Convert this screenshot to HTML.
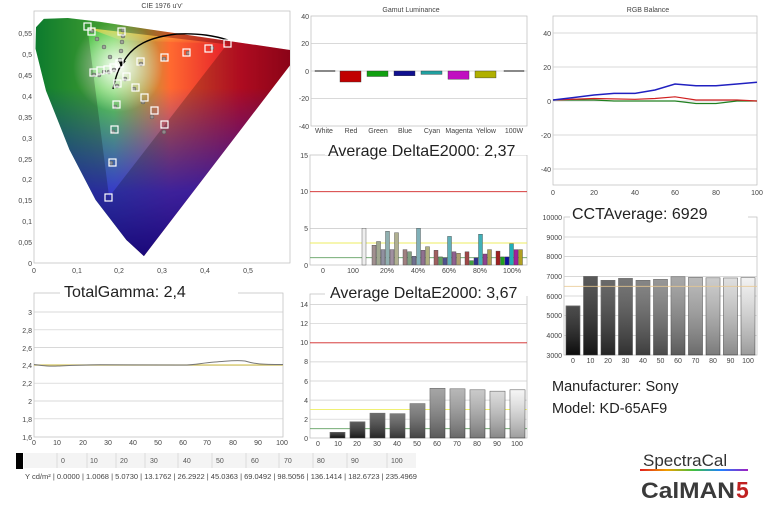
<!DOCTYPE html>
<html><head><meta charset="utf-8"><style>
html,body{margin:0;padding:0;background:#fff}
svg{display:block;font-family:"Liberation Sans",sans-serif}
</style></head><body>
<svg width="770" height="512" viewBox="0 0 770 512" xmlns="http://www.w3.org/2000/svg">
<defs>
<clipPath id="loc"><path d="M143.9,256.1 L126.4,240 L95.6,199.9 L69.5,149.7 L46,90.8 L35.5,48.6 L36,27.2 L43.8,18.9 L67.8,18 L99.5,21.8 L146.1,28.9 L206.5,37.7 L300.6,51.5 Z"/></clipPath>
<clipPath id="plot"><rect x="34" y="11" width="256" height="252"/></clipPath>
<linearGradient id="gh" x1="0" y1="0" x2="1" y2="0"><stop offset="0" stop-color="#0a9a3a"/><stop offset="0.3" stop-color="#5fd040"/><stop offset="0.5" stop-color="#ff6a30"/><stop offset="0.75" stop-color="#e0102a"/><stop offset="1" stop-color="#a0001a"/></linearGradient>
<linearGradient id="gv" x1="0" y1="0" x2="0" y2="1"><stop offset="0.3" stop-color="#2020ff" stop-opacity="0"/><stop offset="0.7" stop-color="#3020e0" stop-opacity="0.85"/><stop offset="1" stop-color="#1a0090" stop-opacity="1"/></linearGradient>
<radialGradient id="gw" cx="118" cy="67" r="45" gradientUnits="userSpaceOnUse"><stop offset="0" stop-color="#fff" stop-opacity="1"/><stop offset="1" stop-color="#fff" stop-opacity="0"/></radialGradient>
<linearGradient id="gy" x1="0" y1="0" x2="0" y2="1"><stop offset="0" stop-color="#ffd040" stop-opacity="0.8"/><stop offset="1" stop-color="#ffd040" stop-opacity="0"/></linearGradient>
<linearGradient id="bar" x1="0" y1="0" x2="0" y2="1"><stop offset="0" stop-color="#fff" stop-opacity="0.25"/><stop offset="1" stop-color="#000" stop-opacity="0.35"/></linearGradient>
<linearGradient id="rb" x1="0" y1="0" x2="1" y2="0"><stop offset="0" stop-color="#e02020"/><stop offset="0.25" stop-color="#f0a000"/><stop offset="0.5" stop-color="#40c040"/><stop offset="0.75" stop-color="#2080ff"/><stop offset="1" stop-color="#a020c0"/></linearGradient>
</defs>

<!-- CIE -->
<text x="162" y="8" font-size="7" fill="#444" text-anchor="middle">CIE 1976 u'v'</text>
<rect x="34" y="11" width="256" height="252" fill="#fff" stroke="#bbb" stroke-width="0.7"/>
<g clip-path="url(#plot)"><g clip-path="url(#loc)">
<rect x="30" y="10" width="280" height="260" fill="url(#gh)"/>
<rect x="30" y="10" width="280" height="260" fill="url(#gv)"/>
<path d="M87.5,27.9 L227,44.4 L120,40 Z" fill="url(#gy)"/>
<rect x="30" y="10" width="280" height="260" fill="url(#gw)"/>
<path d="M30,10 H310 V270 H30 Z M87.5,27.9 L109.1,197 L227,44.4 Z" fill="#000" fill-opacity="0.22" fill-rule="evenodd"/>
</g>
<path d="M113,89 C116,75 119,67 123,63 C132,45 150,37 177,34 C200,33 215,36 228,40" fill="none" stroke="#000" stroke-width="1.4"/>
<path d="M119,62 L126,61 L121,67 Z" fill="#000"/>
<g fill="#999" fill-opacity="0.8" stroke="#555" stroke-width="0.5">
<circle cx="141" cy="64" r="2"/><circle cx="164" cy="59" r="2"/><circle cx="188" cy="53" r="2"/><circle cx="212" cy="48" r="2"/>
<circle cx="117" cy="86" r="2"/><circle cx="115" cy="107" r="2"/><circle cx="113" cy="132" r="2"/><circle cx="111" cy="163" r="2"/>
<circle cx="125" cy="79" r="2"/><circle cx="134" cy="89" r="2"/><circle cx="143" cy="102" r="2"/><circle cx="152" cy="117" r="2"/><circle cx="164" cy="132" r="2"/>
<circle cx="94" cy="75" r="2"/><circle cx="99" cy="75" r="2"/><circle cx="104" cy="72" r="2"/><circle cx="109" cy="72" r="2"/><circle cx="114" cy="70" r="2"/>
<circle cx="123" cy="30" r="2"/><circle cx="123" cy="36" r="2"/><circle cx="122" cy="42" r="2"/><circle cx="121" cy="51" r="2"/><circle cx="120" cy="60" r="2"/>
<circle cx="92" cy="31" r="2"/><circle cx="97" cy="39" r="2"/><circle cx="104" cy="47" r="2"/><circle cx="110" cy="57" r="2"/>
</g>
<g fill="none" stroke="#fff" stroke-width="1.2">
<rect x="84" y="23" width="7" height="7"/><rect x="88" y="28" width="7" height="7"/><rect x="137" y="58" width="7" height="7"/><rect x="161" y="54" width="7" height="7"/><rect x="183" y="49" width="7" height="7"/><rect x="205" y="45" width="7" height="7"/><rect x="224" y="40" width="7" height="7"/>
<rect x="114" y="80" width="7" height="7"/><rect x="113" y="101" width="7" height="7"/><rect x="111" y="126" width="7" height="7"/><rect x="109" y="159" width="7" height="7"/><rect x="105" y="194" width="7" height="7"/>
<rect x="123" y="73" width="7" height="7"/><rect x="132" y="84" width="7" height="7"/><rect x="141" y="94" width="7" height="7"/><rect x="151" y="107" width="7" height="7"/><rect x="161" y="121" width="7" height="7"/>
<rect x="90" y="69" width="7" height="7"/><rect x="97" y="67" width="7" height="7"/><rect x="104" y="66" width="7" height="7"/><rect x="110" y="64" width="7" height="7"/>
<rect x="118" y="28" width="7" height="7"/><rect x="116" y="60" width="7" height="7"/>
</g></g>
<g font-size="7" fill="#444" text-anchor="end">
<text x="32" y="36">0,55</text><text x="32" y="57">0,5</text><text x="32" y="78">0,45</text><text x="32" y="99">0,4</text><text x="32" y="120">0,35</text><text x="32" y="141">0,3</text><text x="32" y="162">0,25</text><text x="32" y="182">0,2</text><text x="32" y="203">0,15</text><text x="32" y="224">0,1</text><text x="32" y="245">0,05</text><text x="32" y="266">0</text>
</g>
<g font-size="7" fill="#444" text-anchor="middle">
<text x="34" y="273">0</text><text x="77" y="273">0,1</text><text x="119" y="273">0,2</text><text x="162" y="273">0,3</text><text x="205" y="273">0,4</text><text x="248" y="273">0,5</text>
</g>

<!-- Gamut Luminance -->
<text x="411" y="12" font-size="7" fill="#444" text-anchor="middle">Gamut Luminance</text>
<rect x="311" y="16" width="216" height="110" fill="#fff" stroke="#bbb" stroke-width="0.7"/>
<g stroke="#ccc" stroke-width="0.7"><line x1="311" y1="43.5" x2="527" y2="43.5"/><line x1="311" y1="71" x2="527" y2="71"/><line x1="311" y1="98.5" x2="527" y2="98.5"/></g>
<g stroke="#333" stroke-width="0.4">
<rect x="340" y="71" width="21" height="11" fill="#c00000"/><rect x="367" y="71" width="21" height="5.5" fill="#10a010"/><rect x="394" y="71" width="21" height="4.8" fill="#101090"/><rect x="421" y="71" width="21" height="3.4" fill="#20a0a0"/><rect x="448" y="71" width="21" height="8.2" fill="#c010c0"/><rect x="475" y="71" width="21" height="6.9" fill="#b0b000"/>
<rect x="315" y="70.5" width="20" height="1" fill="#888"/><rect x="504" y="70.5" width="20" height="1" fill="#888"/>
</g>
<g font-size="7" fill="#444" text-anchor="end"><text x="309" y="19">40</text><text x="309" y="46">20</text><text x="309" y="74">0</text><text x="309" y="101">-20</text><text x="309" y="129">-40</text></g>
<g font-size="7" fill="#444" text-anchor="middle"><text x="324" y="133">White</text><text x="351" y="133">Red</text><text x="378" y="133">Green</text><text x="405" y="133">Blue</text><text x="432" y="133">Cyan</text><text x="459" y="133">Magenta</text><text x="486" y="133">Yellow</text><text x="514" y="133">100W</text></g>

<!-- DeltaE 1 -->
<rect x="310" y="155" width="217" height="110" fill="#fff" stroke="#bbb" stroke-width="0.7"/>
<rect x="325" y="140" width="205" height="15" fill="#fff"/>
<text x="328" y="156" font-size="16" fill="#222">Average DeltaE2000: 2,37</text>
<line x1="310" y1="191.7" x2="527" y2="191.7" stroke="#d02020" stroke-width="0.9"/>
<line x1="310" y1="228.3" x2="527" y2="228.3" stroke="#bbb" stroke-width="0.7"/>
<line x1="310" y1="243" x2="527" y2="243" stroke="#eeee60" stroke-width="0.9"/>
<line x1="310" y1="257.7" x2="527" y2="257.7" stroke="#60a060" stroke-width="0.8"/>
<g stroke="#444" stroke-width="0.4">
<rect x="362" y="228.3" width="4" height="36.7" fill="#eee"/>
<rect x="372" y="245.2" width="4" height="19.8" fill="#a09090"/><rect x="376.5" y="241.5" width="4" height="23.5" fill="#a0a890"/><rect x="381" y="249.6" width="4" height="15.4" fill="#9090a0"/><rect x="385.5" y="231.3" width="4" height="33.7" fill="#90b0b0"/><rect x="390" y="249.6" width="4" height="15.4" fill="#a090a0"/><rect x="394.5" y="232.7" width="4" height="32.3" fill="#b0b090"/>
<rect x="403" y="249.6" width="4" height="15.4" fill="#a08080"/><rect x="407.5" y="251.8" width="4" height="13.2" fill="#80a080"/><rect x="412" y="256.2" width="4" height="8.8" fill="#707090"/><rect x="416.5" y="228.3" width="4" height="36.7" fill="#80b0b8"/><rect x="421" y="250.3" width="4" height="14.7" fill="#907090"/><rect x="425.5" y="246.7" width="4" height="18.3" fill="#b0b080"/>
<rect x="434" y="250.3" width="4" height="14.7" fill="#a06060"/><rect x="438.5" y="256.9" width="4" height="8.1" fill="#60a060"/><rect x="443" y="257.7" width="4" height="7.3" fill="#505090"/><rect x="447.5" y="236.4" width="4" height="28.6" fill="#60b0b8"/><rect x="452" y="251.8" width="4" height="13.2" fill="#906090"/><rect x="456.5" y="253.3" width="4" height="11.7" fill="#b0a070"/>
<rect x="465" y="251.8" width="4" height="13.2" fill="#a04848"/><rect x="469.5" y="260.6" width="4" height="4.4" fill="#40a040"/><rect x="474" y="257.7" width="4" height="7.3" fill="#303090"/><rect x="478.5" y="234.2" width="4" height="30.8" fill="#40b0b8"/><rect x="483" y="254" width="4" height="11" fill="#904090"/><rect x="487.5" y="249.6" width="4" height="15.4" fill="#b0a050"/>
<rect x="496" y="251.1" width="4" height="13.9" fill="#a02020"/><rect x="500.5" y="256.9" width="4" height="8.1" fill="#20a020"/><rect x="505" y="256.9" width="4" height="8.1" fill="#1010a0"/><rect x="509.5" y="243.7" width="4" height="21.3" fill="#20b0b8"/><rect x="514" y="249.6" width="4" height="15.4" fill="#a020a0"/><rect x="518.5" y="249.6" width="4" height="15.4" fill="#b0a020"/>
</g>
<g font-size="7" fill="#444" text-anchor="end"><text x="308" y="158">15</text><text x="308" y="194">10</text><text x="308" y="231">5</text><text x="308" y="268">0</text></g>
<g font-size="7" fill="#444" text-anchor="middle"><text x="323" y="273">0</text><text x="353" y="273">100</text><text x="387" y="273">20%</text><text x="418" y="273">40%</text><text x="449" y="273">60%</text><text x="480" y="273">80%</text><text x="512" y="273">100%</text></g>

<!-- RGB Balance -->
<text x="648" y="12" font-size="7" fill="#444" text-anchor="middle">RGB Balance</text>
<rect x="553" y="16" width="204" height="169" fill="#fff" stroke="#bbb" stroke-width="0.7"/>
<g stroke="#ccc" stroke-width="0.7"><line x1="553" y1="33" x2="757" y2="33"/><line x1="553" y1="67" x2="757" y2="67"/><line x1="553" y1="101" x2="757" y2="101"/><line x1="553" y1="135" x2="757" y2="135"/><line x1="553" y1="169" x2="757" y2="169"/></g>
<polyline fill="none" stroke="#208020" stroke-width="1.2" points="553,100 594,100 614,101 655,101 675,101 696,103.5 716,103.5 737,101 757,101"/>
<polyline fill="none" stroke="#d02020" stroke-width="1.2" points="553,100 594,98.5 635,99.3 655,98.5 675,96.8 696,100 716,100 737,100 757,101"/>
<polyline fill="none" stroke="#2020c0" stroke-width="1.5" points="553,100 573,97.6 594,95 614,93.4 635,93.4 655,90 675,84 696,85.7 716,85.7 737,84 757,82.3"/>
<g font-size="7" fill="#444" text-anchor="end"><text x="551" y="36">40</text><text x="551" y="70">20</text><text x="551" y="104">0</text><text x="551" y="138">-20</text><text x="551" y="172">-40</text></g>
<g font-size="7" fill="#444" text-anchor="middle"><text x="553" y="195">0</text><text x="594" y="195">20</text><text x="635" y="195">40</text><text x="675" y="195">60</text><text x="716" y="195">80</text><text x="757" y="195">100</text></g>

<!-- CCT -->
<rect x="564" y="217" width="193" height="138" fill="#fff" stroke="#bbb" stroke-width="0.7"/>
<rect x="570" y="205" width="178" height="14" fill="#fff"/>
<text x="572" y="219" font-size="16" fill="#222">CCTAverage: 6929</text>
<g stroke="#ccc" stroke-width="0.7"><line x1="564" y1="237" x2="757" y2="237"/><line x1="564" y1="256.6" x2="757" y2="256.6"/><line x1="564" y1="276.4" x2="757" y2="276.4"/><line x1="564" y1="296" x2="757" y2="296"/><line x1="564" y1="315.7" x2="757" y2="315.7"/><line x1="564" y1="335.4" x2="757" y2="335.4"/></g>
<g stroke="#555" stroke-width="0.6">
<rect x="566" y="305.9" width="14" height="49.1" fill="#111"/><rect x="583.5" y="276.4" width="14" height="78.6" fill="#222"/><rect x="601" y="280.3" width="14" height="74.7" fill="#383838"/><rect x="618.5" y="278.4" width="14" height="76.6" fill="#4a4a4a"/><rect x="636" y="280.3" width="14" height="74.7" fill="#5e5e5e"/><rect x="653.5" y="279.4" width="14" height="75.6" fill="#747474"/><rect x="671" y="276.8" width="14" height="78.2" fill="#8c8c8c"/><rect x="688.5" y="277.4" width="14" height="77.6" fill="#a4a4a4"/><rect x="706" y="277.8" width="14" height="77.2" fill="#bcbcbc"/><rect x="723.5" y="278" width="14" height="77" fill="#d4d4d4"/><rect x="741" y="277.6" width="14" height="77.4" fill="#eeeeee"/>
</g>
<g fill="url(#bar)"><rect x="566" y="305.9" width="14" height="49.1"/><rect x="583.5" y="276.4" width="14" height="78.6"/><rect x="601" y="280.3" width="14" height="74.7"/><rect x="618.5" y="278.4" width="14" height="76.6"/><rect x="636" y="280.3" width="14" height="74.7"/><rect x="653.5" y="279.4" width="14" height="75.6"/><rect x="671" y="276.8" width="14" height="78.2"/><rect x="688.5" y="277.4" width="14" height="77.6"/><rect x="706" y="277.8" width="14" height="77.2"/><rect x="723.5" y="278" width="14" height="77"/><rect x="741" y="277.6" width="14" height="77.4"/></g>
<line x1="564" y1="286.4" x2="757" y2="286.4" stroke="#e8c890" stroke-width="1" stroke-opacity="0.8"/>
<g font-size="7" fill="#444" text-anchor="end"><text x="562" y="220">10000</text><text x="562" y="240">9000</text><text x="562" y="259">8000</text><text x="562" y="279">7000</text><text x="562" y="299">6000</text><text x="562" y="318">5000</text><text x="562" y="338">4000</text><text x="562" y="358">3000</text></g>
<g font-size="7" fill="#444" text-anchor="middle"><text x="573" y="363">0</text><text x="590.5" y="363">10</text><text x="608" y="363">20</text><text x="625.5" y="363">30</text><text x="643" y="363">40</text><text x="660.5" y="363">50</text><text x="678" y="363">60</text><text x="695.5" y="363">70</text><text x="713" y="363">80</text><text x="730.5" y="363">90</text><text x="748" y="363">100</text></g>

<text x="552" y="391" font-size="14.5" fill="#222">Manufacturer: Sony</text>
<text x="552" y="413" font-size="14.5" fill="#222">Model: KD-65AF9</text>

<!-- Gamma -->
<rect x="34" y="293" width="249" height="144" fill="#fff" stroke="#bbb" stroke-width="0.7"/>
<rect x="60" y="283" width="178" height="12" fill="#fff"/>
<text x="64" y="297" font-size="16" fill="#222">TotalGamma: 2,4</text>
<g stroke="#ccc" stroke-width="0.7"><line x1="34" y1="312" x2="283" y2="312"/><line x1="34" y1="329.8" x2="283" y2="329.8"/><line x1="34" y1="347.6" x2="283" y2="347.6"/><line x1="34" y1="365.4" x2="283" y2="365.4"/><line x1="34" y1="383.2" x2="283" y2="383.2"/><line x1="34" y1="401" x2="283" y2="401"/><line x1="34" y1="418.8" x2="283" y2="418.8"/></g>
<line x1="34" y1="365" x2="283" y2="365" stroke="#d8c860" stroke-width="1.2"/>
<path d="M34,364.5 C45,366 50,366.5 58,366 C70,365.5 80,365 100,364.8 L180,365 C195,365.5 200,363 215,362 C230,361 235,360 245,361 C255,364 260,364.5 283,364.5" fill="none" stroke="#777" stroke-width="1"/>
<g font-size="7" fill="#444" text-anchor="end"><text x="32" y="315">3</text><text x="32" y="333">2,8</text><text x="32" y="351">2,6</text><text x="32" y="368">2,4</text><text x="32" y="386">2,2</text><text x="32" y="404">2</text><text x="32" y="422">1,8</text><text x="32" y="440">1,6</text></g>
<g font-size="7" fill="#444" text-anchor="middle"><text x="34" y="445">0</text><text x="57" y="445">10</text><text x="83" y="445">20</text><text x="108" y="445">30</text><text x="133" y="445">40</text><text x="158" y="445">50</text><text x="183" y="445">60</text><text x="207" y="445">70</text><text x="233" y="445">80</text><text x="258" y="445">90</text><text x="282" y="445">100</text></g>

<!-- DeltaE 2 -->
<rect x="310" y="294" width="217" height="144" fill="#fff" stroke="#bbb" stroke-width="0.7"/>
<rect x="325" y="283" width="205" height="13" fill="#fff"/>
<text x="330" y="298" font-size="16" fill="#222">Average DeltaE2000: 3,67</text>
<g stroke="#ccc" stroke-width="0.7"><line x1="310" y1="304.6" x2="527" y2="304.6"/><line x1="310" y1="323.7" x2="527" y2="323.7"/><line x1="310" y1="361.9" x2="527" y2="361.9"/><line x1="310" y1="381" x2="527" y2="381"/><line x1="310" y1="400.1" x2="527" y2="400.1"/><line x1="310" y1="419.2" x2="527" y2="419.2"/></g>
<line x1="310" y1="342.8" x2="527" y2="342.8" stroke="#d02020" stroke-width="0.9"/>
<line x1="310" y1="409.6" x2="527" y2="409.6" stroke="#eeee60" stroke-width="0.9"/>
<line x1="310" y1="428.7" x2="527" y2="428.7" stroke="#60a060" stroke-width="0.8"/>
<g stroke="#555" stroke-width="0.6">
<rect x="330" y="432.3" width="15" height="5.7" fill="#111"/><rect x="350" y="421.8" width="15" height="16.2" fill="#252525"/><rect x="370" y="413.2" width="15" height="24.8" fill="#3a3a3a"/><rect x="390" y="413.7" width="15" height="24.3" fill="#505050"/><rect x="410" y="403.6" width="15" height="34.4" fill="#686868"/><rect x="430" y="388.3" width="15" height="49.7" fill="#888"/><rect x="450" y="388.8" width="15" height="49.2" fill="#a0a0a0"/><rect x="470" y="389.8" width="15" height="48.2" fill="#b8b8b8"/><rect x="490" y="391.2" width="15" height="46.8" fill="#d0d0d0"/><rect x="510" y="389.8" width="15" height="48.2" fill="#f2f2f2"/>
</g>
<g fill="url(#bar)"><rect x="330" y="432.3" width="15" height="5.7"/><rect x="350" y="421.8" width="15" height="16.2"/><rect x="370" y="413.2" width="15" height="24.8"/><rect x="390" y="413.7" width="15" height="24.3"/><rect x="410" y="403.6" width="15" height="34.4"/><rect x="430" y="388.3" width="15" height="49.7"/><rect x="450" y="388.8" width="15" height="49.2"/><rect x="470" y="389.8" width="15" height="48.2"/><rect x="490" y="391.2" width="15" height="46.8"/><rect x="510" y="389.8" width="15" height="48.2"/></g>
<g font-size="7" fill="#444" text-anchor="end"><text x="308" y="307">14</text><text x="308" y="326">12</text><text x="308" y="345">10</text><text x="308" y="364">8</text><text x="308" y="384">6</text><text x="308" y="403">4</text><text x="308" y="422">2</text><text x="308" y="441">0</text></g>
<g font-size="7" fill="#444" text-anchor="middle"><text x="318" y="446">0</text><text x="338" y="446">10</text><text x="357" y="446">20</text><text x="377" y="446">30</text><text x="397" y="446">40</text><text x="417" y="446">50</text><text x="437" y="446">60</text><text x="457" y="446">70</text><text x="477" y="446">80</text><text x="497" y="446">90</text><text x="517" y="446">100</text></g>

<!-- Table -->
<rect x="16" y="453" width="7" height="16" fill="#000"/>
<rect x="24" y="453" width="392" height="15" fill="#f4f4f4"/>
<g stroke="#ccc" stroke-width="0.6"><line x1="57" y1="453" x2="57" y2="468"/><line x1="87" y1="453" x2="87" y2="468"/><line x1="116" y1="453" x2="116" y2="468"/><line x1="145" y1="453" x2="145" y2="468"/><line x1="178" y1="453" x2="178" y2="468"/><line x1="212" y1="453" x2="212" y2="468"/><line x1="246" y1="453" x2="246" y2="468"/><line x1="279" y1="453" x2="279" y2="468"/><line x1="313" y1="453" x2="313" y2="468"/><line x1="347" y1="453" x2="347" y2="468"/><line x1="387" y1="453" x2="387" y2="468"/></g>
<g font-size="7" fill="#555"><text x="61" y="463">0</text><text x="90" y="463">10</text><text x="120" y="463">20</text><text x="150" y="463">30</text><text x="183" y="463">40</text><text x="216" y="463">50</text><text x="251" y="463">60</text><text x="284" y="463">70</text><text x="317" y="463">80</text><text x="351" y="463">90</text><text x="391" y="463">100</text></g>
<text x="25" y="479" font-size="7" fill="#444" textLength="392" lengthAdjust="spacingAndGlyphs">Y cd/m² | 0.0000 | 1.0068 | 5.0730 | 13.1762 | 26.2922 | 45.0363 | 69.0492 | 98.5056 | 136.1414 | 182.6723 | 235.4969</text>

<!-- Logo -->
<text x="643" y="466" font-size="17" fill="#333">SpectraCal</text>
<rect x="640" y="469" width="108" height="2" fill="url(#rb)"/>
<text x="641" y="498" font-size="22" font-weight="bold" fill="#3a3a3a" textLength="94" lengthAdjust="spacingAndGlyphs">CalMAN</text>
<text x="736" y="498" font-size="23" font-weight="bold" fill="#c02020">5</text>
</svg>
</body></html>
